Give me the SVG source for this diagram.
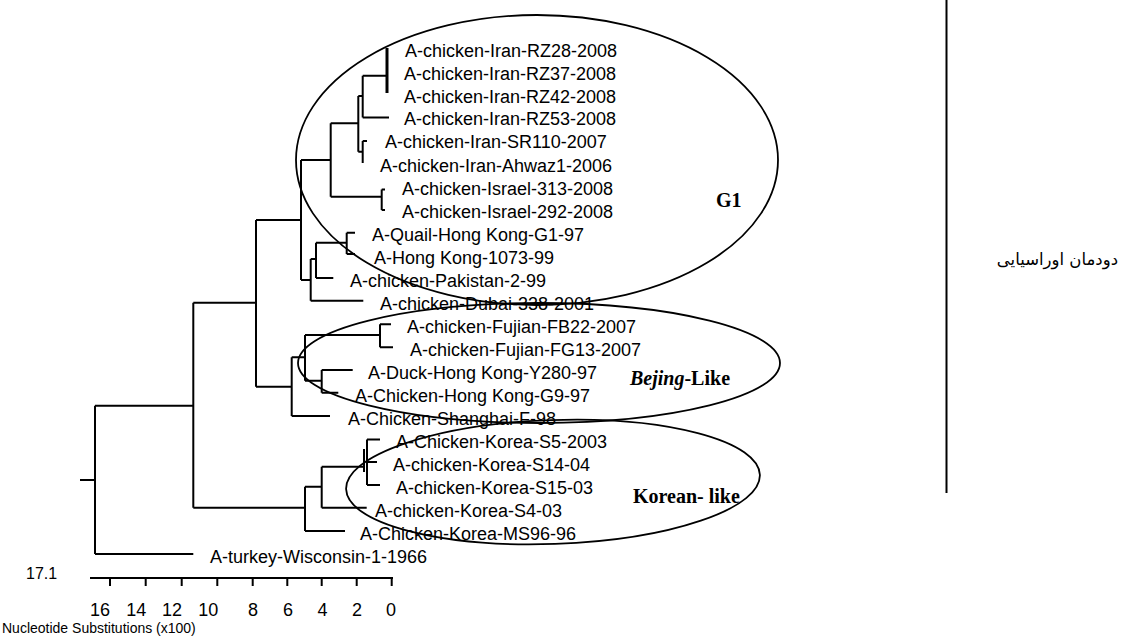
<svg xmlns="http://www.w3.org/2000/svg" width="1122" height="640" viewBox="0 0 1122 640">
<style>
.lbl{font-family:"Liberation Sans",Arial,sans-serif;font-size:18px;fill:#000}
.grp{font-family:"Liberation Serif","Times New Roman",serif;font-size:20px;font-weight:bold;fill:#000}
.br{fill:none;stroke:#000;stroke-width:2}
.ell{fill:none;stroke:#000;stroke-width:1.8}
.axis{font-family:"Liberation Sans",Arial,sans-serif;font-size:18px;fill:#000}
</style>
<rect width="1122" height="640" fill="#fff"/>
<g id="connectors">
<path class="br" d="M80 480H95M95 405.7V554M95 405.7H193.3M95 554H193.3
M193.3 302.7V507.7M193.3 302.7H256M193.3 507.7H305
M256 220V386.7M256 220H301M256 386.7H291.7
M301 160V280M301 160H330.7M301 280H310.7
M330.7 123.3V196.7M330.7 196.7H381.7M381.7 189.5V210M381.7 189.5H385M381.7 210H385
M330.7 123.3H358.3M358.3 96V151.7M358.3 96H362.7M362.7 75.7V117.5M362.7 117.5H389M362.7 75.7H387
M358.3 151.7H362.7M362.7 141V163M362.7 141H367
M310.7 259V300.7M310.7 300.7H363.3M310.7 259H316M316 242.7V278M316 278H333.3M316 242.7H346.7M346.7 232.7V254M346.7 232.7H355M346.7 254H355
M291.7 357.3V416M291.7 416H330M291.7 357.3H305M305 335V380.7M305 335H380M380 324.3V347.3M380 324.3H391M380 347.3H393M305 380.7H321.7M321.7 370V392.7M321.7 370H352.7M321.7 392.7H338.3
M305 486.7V531M305 531H345M305 486.7H321.7M321.7 466.7V507.7M321.7 507.7H366.7M321.7 466.7H364M364 449V472M367 439.5V485M367 439.5H380M367 462H377M367 485H380"/>
<path d="M387 48V93" stroke="#000" stroke-width="3"/>
</g>
<g id="G1-clade">
<ellipse class="ell" cx="537" cy="160" rx="241" ry="145"/>
<text class="grp" x="716" y="207">G1</text>
</g>
<g id="Bejing-clade">
<ellipse class="ell" cx="539" cy="363" rx="241" ry="60"/>
<text class="grp" x="630" y="385"><tspan font-style="italic">Bejing</tspan>-Like</text>
</g>
<g id="Korean-clade">
<ellipse class="ell" cx="553" cy="482" rx="207" ry="62" transform="rotate(-2 553 482)"/>
<text class="grp" x="633" y="503">Korean- like</text>
</g>
<g id="labels">
<text class="lbl" x="405" y="57">A-chicken-Iran-RZ28-2008</text>
<text class="lbl" x="404" y="79.5">A-chicken-Iran-RZ37-2008</text>
<text class="lbl" x="404" y="102.5">A-chicken-Iran-RZ42-2008</text>
<text class="lbl" x="404" y="125">A-chicken-Iran-RZ53-2008</text>
<text class="lbl" x="385" y="148">A-chicken-Iran-SR110-2007</text>
<text class="lbl" x="380" y="171.5">A-chicken-Iran-Ahwaz1-2006</text>
<text class="lbl" x="402" y="194.5">A-chicken-Israel-313-2008</text>
<text class="lbl" x="402" y="217.5">A-chicken-Israel-292-2008</text>
<text class="lbl" x="372" y="240.5">A-Quail-Hong Kong-G1-97</text>
<text class="lbl" x="374" y="263.5">A-Hong Kong-1073-99</text>
<text class="lbl" x="350" y="286.5">A-chicken-Pakistan-2-99</text>
<text class="lbl" x="380" y="309.5">A-chicken-Dubai-338-2001</text>
<text class="lbl" x="407" y="332.5">A-chicken-Fujian-FB22-2007</text>
<text class="lbl" x="410" y="355.5">A-chicken-Fujian-FG13-2007</text>
<text class="lbl" x="368" y="378.5">A-Duck-Hong Kong-Y280-97</text>
<text class="lbl" x="355" y="401.5">A-Chicken-Hong Kong-G9-97</text>
<text class="lbl" x="348" y="424.5">A-Chicken-Shanghai-F-98</text>
<text class="lbl" x="396" y="447.5">A-Chicken-Korea-S5-2003</text>
<text class="lbl" x="393" y="470.5">A-chicken-Korea-S14-04</text>
<text class="lbl" x="396" y="493.5">A-chicken-Korea-S15-03</text>
<text class="lbl" x="375" y="516.5">A-chicken-Korea-S4-03</text>
<text class="lbl" x="360" y="539.5">A-Chicken-Korea-MS96-96</text>
<text class="lbl" x="210" y="562.5">A-turkey-Wisconsin-1-1966</text>
</g>
<g id="scale">
<text x="26" y="579" font-family="Liberation Sans, Arial, sans-serif" font-size="16">17.1</text>
<path class="br" d="M90 578H393M110 578V586M145.7 578V586M181.7 578V586M217.3 578V586M252.7 578V586M287.3 578V586M321.7 578V586M356.7 578V586M391.7 578V586"/>
<g class="axis" text-anchor="middle">
<text x="100" y="616">16</text>
<text x="136.3" y="616">14</text>
<text x="172" y="616">12</text>
<text x="208.3" y="616">10</text>
<text x="253" y="616">8</text>
<text x="288" y="616">6</text>
<text x="322.5" y="616">4</text>
<text x="357" y="616">2</text>
<text x="391" y="616">0</text>
</g>
<text x="2" y="633" font-family="Liberation Sans, Arial, sans-serif" font-size="14">Nucleotide Substitutions (x100)</text>
</g>
<g id="lineage">
<line x1="946.5" y1="0" x2="946.5" y2="493" stroke="#000" stroke-width="2"/>
<text x="1118" y="265" text-anchor="end" font-family="DejaVu Sans, sans-serif" font-size="16.5">دودمان اوراسیایی</text>
</g>
</svg>
